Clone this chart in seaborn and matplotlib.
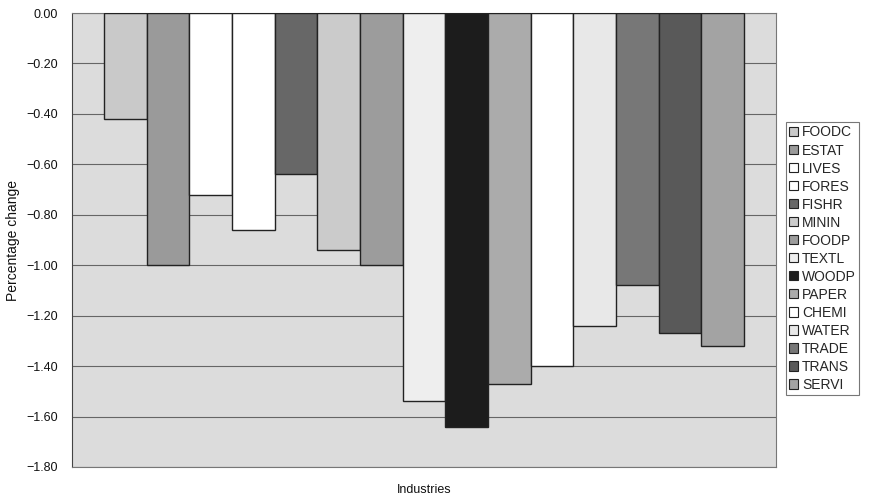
import matplotlib
matplotlib.use("Agg")
import matplotlib.pyplot as plt
from matplotlib.patches import Patch
from matplotlib.ticker import FuncFormatter, MultipleLocator
import seaborn as sns
import pandas as pd

industries = ["FOODC", "ESTAT", "LIVES", "FORES", "FISHR", "MININ", "FOODP", "TEXTL",
              "WOODP", "PAPER", "CHEMI", "WATER", "TRADE", "TRANS", "SERVI"]
pct_change = [-0.42, -1.00, -0.72, -0.86, -0.64, -0.94, -1.00, -1.54,
              -1.64, -1.47, -1.40, -1.24, -1.08, -1.27, -1.32]
shades = ["#c9c9c9", "#9a9a9a", "#ffffff", "#ffffff", "#676767", "#cbcbcb", "#9c9c9c", "#eeeeee",
          "#1c1c1c", "#ababab", "#ffffff", "#e8e8e8", "#777777", "#595959", "#a3a3a3"]

df = pd.DataFrame({"Industry": industries, "Change": pct_change})
palette = dict(zip(industries, shades))

sns.set_theme(style="white")
plt.rcParams["font.family"] = ["Liberation Sans", "DejaVu Sans"]

fig = plt.figure(figsize=(8.74, 4.97), dpi=100)
ax = fig.add_axes([0.0824, 0.0604, 0.8055, 0.9134])
ax.set_facecolor("#dcdcdc")

sns.barplot(data=df, x="Industry", y="Change", hue="Industry", palette=palette,
            width=1.0, dodge=False, legend=False, ax=ax,
            edgecolor="#222222", linewidth=1.0, saturation=1.0, zorder=3)

ax.set_xlim(-1.25, 15.25)
ax.set_ylim(-1.8, 0.0)
ax.yaxis.set_major_locator(MultipleLocator(0.2))
ax.yaxis.set_major_formatter(FuncFormatter(lambda v, p: f"{v:.2f}".replace("-", "\u2212")))
ax.grid(axis="y", color="#666666", linewidth=0.8, zorder=0)
ax.set_axisbelow(True)
ax.set_xticks([])
ax.tick_params(axis="y", length=0, labelsize=9, pad=10, colors="#111111")

for side in ["left", "bottom", "right", "top"]:
    ax.spines[side].set_visible(True)
    ax.spines[side].set_color("#777777")
    ax.spines[side].set_linewidth(0.8)
ax.spines["left"].set_color("#444444")

ax.set_xlabel("Industries", fontsize=9, labelpad=12, color="#111111")
ax.set_ylabel("Percentage change", fontsize=10, labelpad=5, color="#111111")

handles = [Patch(facecolor=c, edgecolor="#222222", linewidth=0.8) for c in shades]
leg = fig.legend(handles, industries, loc="upper left", bbox_to_anchor=(0.8993, 0.7545),
                 fontsize=10, frameon=True, fancybox=False, handlelength=0.65, handleheight=0.65,
                 handletextpad=0.25, labelspacing=0.29, borderpad=0.25, borderaxespad=0.0)
leg.get_frame().set_edgecolor("#555555")
leg.get_frame().set_linewidth(0.8)

fig.savefig("out.png", dpi=100, facecolor="white")
